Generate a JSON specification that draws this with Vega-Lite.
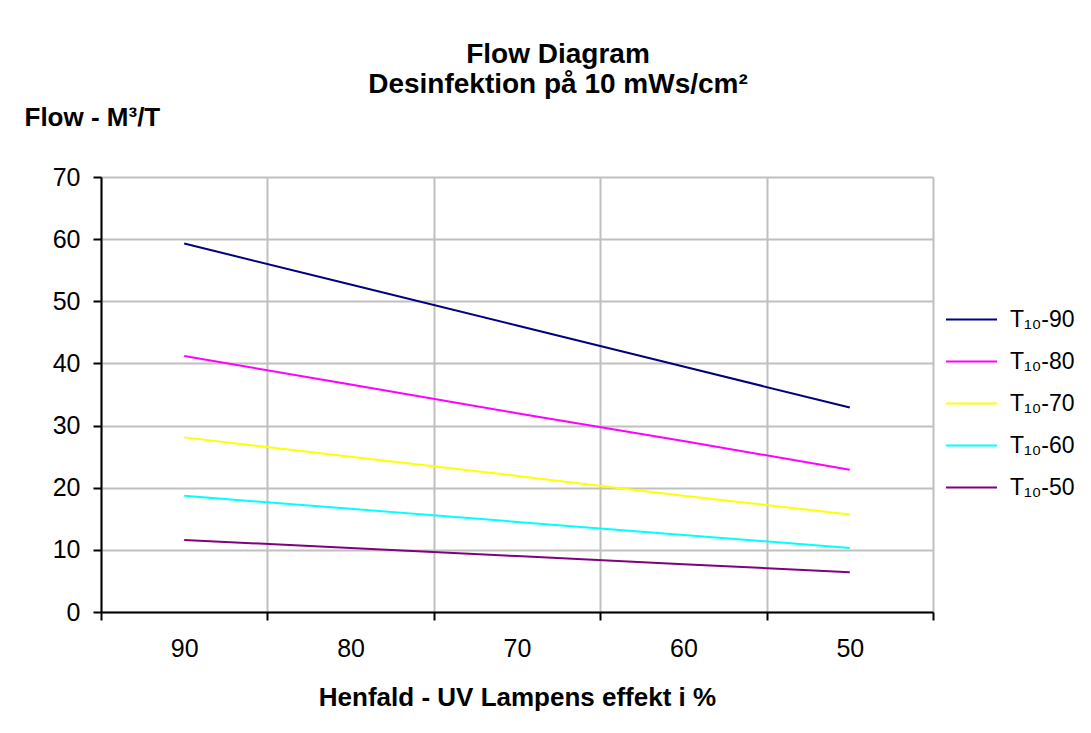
{
  "$schema": "https://vega.github.io/schema/vega-lite/v6.json",
  "width": 832,
  "height": 435,
  "autosize": {"type": "none"},
  "padding": {"left": 101, "top": 177, "right": 158, "bottom": 121},
  "background": "#ffffff",
  "config": {
    "font": "Liberation Sans",
    "view": {"stroke": null},
    "axis": {
      "gridColor": "#c0c0c0",
      "gridWidth": 2,
      "domainColor": "#000000",
      "domainWidth": 2,
      "tickColor": "#000000",
      "tickWidth": 2,
      "tickSize": 8,
      "labelColor": "#000000",
      "labelFontSize": 25,
      "titleColor": "#000000",
      "titleFontWeight": "bold"
    }
  },
  "title": {
    "text": ["Flow Diagram", "Desinfektion på 10 mWs/cm²"],
    "fontSize": 28,
    "fontWeight": "bold",
    "color": "#000000",
    "lineHeight": 30,
    "anchor": "middle",
    "dx": 41,
    "offset": 5
  },
  "data": {
    "values": [
      {"effekt": "90", "serie": "T₁₀-90", "flow": 59.3},
      {"effekt": "80", "serie": "T₁₀-90", "flow": 52.7},
      {"effekt": "70", "serie": "T₁₀-90", "flow": 46.1},
      {"effekt": "60", "serie": "T₁₀-90", "flow": 39.5},
      {"effekt": "50", "serie": "T₁₀-90", "flow": 32.9},
      {"effekt": "90", "serie": "T₁₀-80", "flow": 41.2},
      {"effekt": "80", "serie": "T₁₀-80", "flow": 36.6},
      {"effekt": "70", "serie": "T₁₀-80", "flow": 32.0},
      {"effekt": "60", "serie": "T₁₀-80", "flow": 27.5},
      {"effekt": "50", "serie": "T₁₀-80", "flow": 22.9},
      {"effekt": "90", "serie": "T₁₀-70", "flow": 28.1},
      {"effekt": "80", "serie": "T₁₀-70", "flow": 25.0},
      {"effekt": "70", "serie": "T₁₀-70", "flow": 21.9},
      {"effekt": "60", "serie": "T₁₀-70", "flow": 18.7},
      {"effekt": "50", "serie": "T₁₀-70", "flow": 15.7},
      {"effekt": "90", "serie": "T₁₀-60", "flow": 18.7},
      {"effekt": "80", "serie": "T₁₀-60", "flow": 16.6},
      {"effekt": "70", "serie": "T₁₀-60", "flow": 14.5},
      {"effekt": "60", "serie": "T₁₀-60", "flow": 12.4},
      {"effekt": "50", "serie": "T₁₀-60", "flow": 10.3},
      {"effekt": "90", "serie": "T₁₀-50", "flow": 11.6},
      {"effekt": "80", "serie": "T₁₀-50", "flow": 10.3},
      {"effekt": "70", "serie": "T₁₀-50", "flow": 9.0},
      {"effekt": "60", "serie": "T₁₀-50", "flow": 7.7},
      {"effekt": "50", "serie": "T₁₀-50", "flow": 6.4}
    ]
  },
  "mark": {"type": "line", "strokeWidth": 2},
  "encoding": {
    "x": {
      "field": "effekt",
      "type": "ordinal",
      "sort": ["90", "80", "70", "60", "50"],
      "scale": {"type": "band", "paddingInner": 0, "paddingOuter": 0},
      "axis": {
        "title": "Henfald - UV Lampens effekt i %",
        "titleFontSize": 26,
        "titleY": 93,
        "titleBaseline": "alphabetic",
        "labelAngle": 0,
        "labelPadding": 16,
        "tickBand": "extent",
        "grid": true
      }
    },
    "y": {
      "field": "flow",
      "type": "quantitative",
      "scale": {"domain": [0, 70], "nice": false},
      "axis": {
        "title": "Flow - M³/T",
        "titleFontSize": 26,
        "titleAngle": 0,
        "titleAlign": "left",
        "titleBaseline": "alphabetic",
        "titleX": -77,
        "titleY": -52,
        "values": [0, 10, 20, 30, 40, 50, 60, 70],
        "labelPadding": 13,
        "grid": true
      }
    },
    "color": {
      "field": "serie",
      "type": "nominal",
      "scale": {
        "domain": ["T₁₀-90", "T₁₀-80", "T₁₀-70", "T₁₀-60", "T₁₀-50"],
        "range": ["#000080", "#ff00ff", "#ffff00", "#00ffff", "#800080"]
      },
      "legend": {
        "title": null,
        "orient": "none",
        "legendX": 844,
        "legendY": 116,
        "symbolType": "stroke",
        "symbolSize": 2601,
        "symbolStrokeWidth": 2,
        "labelFontSize": 23,
        "labelColor": "#000000",
        "labelOffset": 12,
        "rowPadding": 3
      }
    }
  }
}
